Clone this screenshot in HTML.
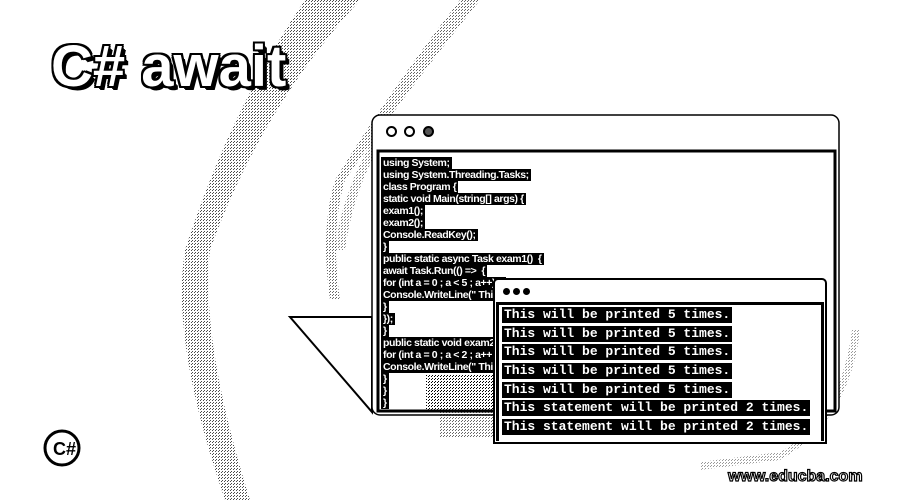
<!DOCTYPE html>
<html><head><style>
body{margin:0;width:900px;height:500px;overflow:hidden;background:#fff;position:relative;font-family:"Liberation Sans",sans-serif}
.abs{position:absolute}
.title{left:51px;top:33px;font-size:58px;font-weight:bold;color:#fff;letter-spacing:0px;
text-shadow:-2px -2px 0 #000,2px -2px 0 #000,-2px 2px 0 #000,2px 2px 0 #000,0 2px 0 #000,0 -2px 0 #000,2px 0 0 #000,-2px 0 0 #000,3px 3px 0 #000,4px 4px 0 #000}
.code{left:381px;top:157px;font-family:"Liberation Sans Narrow","Liberation Sans",sans-serif;font-size:10.5px;line-height:12px;color:#fff;letter-spacing:-0.4px;font-weight:bold}
.code div{background:#000;width:fit-content;padding:0 2px;height:12px;white-space:pre}
.win2{left:493px;top:278px;width:330px;height:162px;background:#fff;border:2px solid #000;border-radius:5px 5px 0 0;z-index:2}
.panel2{position:absolute;left:1px;top:22px;width:322px;height:136px;border:3px solid #000;border-bottom:none}
.out{position:absolute;left:3px;top:2px;font-family:"Liberation Mono",monospace;font-weight:bold;font-size:13px;color:#fff}
.out div{background:#000;width:fit-content;height:16px;line-height:16px;margin-bottom:2.7px;white-space:pre;padding:0 2px}
.dot{width:9px;height:9px;border:2px solid #000;border-radius:50%;box-sizing:border-box}
</style></head><body>
<svg class="abs" style="left:0;top:0" width="900" height="500">
<defs><pattern id="d" width="3" height="3" patternUnits="userSpaceOnUse"><rect width="1" height="1" fill="#000"/><rect x="2" y="1" width="1" height="1" fill="#000"/></pattern></defs>
<path d="M305 0 L360 0 Q260 110 210 250 Q200 340 250 500 L225 500 Q170 340 185 250 Q230 110 305 0Z" fill="url(#d)" opacity="0.7"/>
<path d="M460 0 L480 0 Q400 100 345 180 Q330 230 340 300 L330 300 Q320 230 335 180 Q390 90 460 0Z" fill="url(#d)" opacity="0.6"/>
<path d="M372 140 Q340 200 335 250 L345 250 Q352 200 372 160Z" fill="url(#d)" opacity="0.5"/>
<path d="M860 330 Q850 420 780 460 L700 470 L700 462 L780 452 Q840 420 852 330Z" fill="url(#d)" opacity="0.4"/>
<path d="M290 317 L372 317 L372 412 Z" fill="#fff" stroke="#000" stroke-width="2"/>
<rect x="372" y="115" width="467" height="300" rx="8" fill="#fff" stroke="#000" stroke-width="1.5"/>
<rect x="378" y="151" width="457" height="260" fill="#fff" stroke="#000" stroke-width="3"/>
<rect x="426" y="375" width="68" height="35" fill="url(#d)"/>
<rect x="440" y="412" width="55" height="25" fill="url(#d)" opacity="0.6"/>
<circle cx="62" cy="448" r="17" fill="#fff" stroke="#000" stroke-width="3"/>
<text x="53" y="455" font-size="18" font-weight="bold" font-family="Liberation Sans">C#</text>
<text x="728" y="481" font-size="16" font-weight="bold" font-family="Liberation Sans" fill="#fff" stroke="#000" stroke-width="1.2">www.educba.com</text>
</svg>
<div class="abs title">C# await</div>
<div class="abs dot" style="left:386px;top:126px;width:11px;height:11px"></div>
<div class="abs dot" style="left:404px;top:126px;width:11px;height:11px"></div>
<div class="abs dot" style="left:423px;top:126px;width:11px;height:11px;background:#555"></div>
<div class="abs code">
<div>using System;</div><div>using System.Threading.Tasks;</div><div>class Program {</div><div>static void Main(string[] args) {</div><div>exam1();</div><div>exam2();</div><div>Console.ReadKey();</div><div>}</div><div>public static async Task exam1()  {</div><div>await Task.Run(() =>  {</div><div>for (int a = 0 ; a &lt; 5 ; a++)  {</div><div>Console.WriteLine(" This</div><div>}</div><div>});</div><div>}</div><div>public static void exam2()</div><div>for (int a = 0 ; a &lt; 2 ; a++</div><div>Console.WriteLine(" This</div><div>}</div><div>}</div><div>}</div>
</div>
<div class="abs win2">
<div class="abs dot" style="left:8px;top:8px;width:7px;height:7px;background:#000"></div>
<div class="abs dot" style="left:18px;top:8px;width:7px;height:7px;background:#000"></div>
<div class="abs dot" style="left:28px;top:8px;width:7px;height:7px;background:#000"></div>
<div class="panel2">
<div class="out">
<div>This will be printed 5 times.</div><div>This will be printed 5 times.</div><div>This will be printed 5 times.</div><div>This will be printed 5 times.</div><div>This will be printed 5 times.</div><div>This statement will be printed 2 times.</div><div>This statement will be printed 2 times.</div>
</div></div></div>
</body></html>
